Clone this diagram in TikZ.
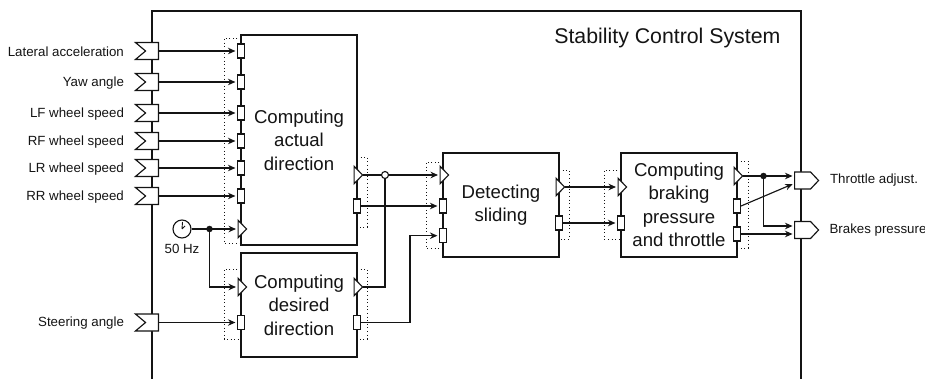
\documentclass[tikz,border=0pt]{standalone}
\usepackage{fontspec}
\setmainfont{Liberation Sans}
\usetikzlibrary{shapes.geometric,shapes.symbols,arrows.meta}

\begin{document}
\begin{tikzpicture}[x=1pt, y=-1pt, line width=1.15pt, black!92, font=\fontsize{13.3}{16}\selectfont,
sig/.style={-{Stealth[length=7.5pt,width=6.5pt]}, shorten >=1.5pt},
blockbox/.style={draw, fill=white, minimum width=116pt, align=center, inner sep=0pt, font=\fontsize{18.6}{23.5}\selectfont},
dataport/.style={draw, fill=white, minimum width=7pt, minimum height=14pt, inner sep=0pt},
trigport/.style={draw, fill=white, isosceles triangle, isosceles triangle apex angle=92, isosceles triangle stretches, minimum width=17.5pt, minimum height=8.5pt, inner sep=0pt, anchor=lower side},
inport/.style={draw, fill=white, signal, signal from=west, signal to=nowhere, signal pointer angle=80, minimum width=23pt, minimum height=17pt, inner sep=0pt, anchor=east},
outport/.style={draw, fill=white, signal, signal to=east, signal from=nowhere, signal pointer angle=93, minimum width=24pt, minimum height=17pt, inner sep=0pt, anchor=west},
portlabel/.style={inner sep=0pt},
dotbox/.style={dash pattern=on 1pt off 2.6pt, line width=0.95pt},
joint/.style={circle, fill, minimum size=6.5pt, inner sep=0pt}]
\useasboundingbox (0,0) rectangle (925,379);
\draw (152,379) -- (152,11) -- (801,11) -- (801,379);
\node [anchor=east, inner sep=0pt, font=\fontsize{21.3}{23}\selectfont] (title) at (781,38) {Stability Control System};

\node [blockbox, minimum height=210pt] (actual) at (299,140) {Computing\\actual\\direction};
\node [blockbox, minimum height=104pt] (desired) at (299,305) {Computing\\desired\\direction};
\node [blockbox, minimum height=104pt] (sliding) at (501,205) {Detecting\\sliding};
\node [blockbox, minimum height=104pt] (braking) at (679,205) {Computing\\braking\\pressure\\and throttle};

% dotted port groups
\draw [dotbox] (241,38) -| (224,243) -- (241,243);
\draw [dotbox] (241,269) -| (224,339) -- (241,339);
\draw [dotbox] (357,157) -| (367,227) -- (357,227);
\draw [dotbox] (357,269) -| (367,339) -- (357,339);
\draw [dotbox] (443,162) -| (426,248) -- (443,248);
\draw [dotbox] (559,170) -| (569,239) -- (559,239);
\draw [dotbox] (621,170) -| (604,239) -- (621,239);
\draw [dotbox] (737,161) -| (748,248) -- (737,248);

\foreach \name/\ypos/\lab in {lat/51/Lateral acceleration, yaw/82/Yaw angle, lf/113/LF wheel speed, rf/141/RF wheel speed, lr/168/LR wheel speed, rr/196/RR wheel speed, steer/322.5/Steering angle} {
  \node [inport] (in\name) at (159,\ypos) {};
  \node [dataport] (data\name) at (241,\ypos) {};
  \node [portlabel, anchor=east] (lab\name) at (124.5,\ypos+0.8) {\lab};
  \draw [sig] (in\name.east) -- (data\name.west);
}

% clock
\node [circle, draw, minimum size=18pt, inner sep=0pt] (clock) at (182,229) {};
\draw [line width=0.9pt] (clock.center) -- +(0.5,-7) (clock.center) -- +(3,-3);
\node [portlabel] (hz) at (182,249) {50 Hz};
\node [joint] (clockjoint) at (209.5,229) {};
\node [trigport] (trigactual) at (237.5,229) {};
\node [trigport] (trigdesired) at (237.5,287) {};
\draw [sig] (clock.east) -- (trigactual.west);
\draw [sig] (clockjoint.center) |- (trigdesired.west);

% outputs of the direction blocks
\node [trigport] (outactual) at (353.5,175) {};
\node [dataport] (dataactual) at (357,206) {};
\node [trigport] (outdesired) at (353.5,287) {};
\node [dataport] (datadesired) at (357,322.7) {};
\node [trigport] (trigsliding) at (439.5,175) {};
\node [dataport] (dataslidingA) at (443,206) {};
\node [dataport] (dataslidingB) at (443,235.7) {};
\coordinate (openpoint) at (385,175);
\coordinate (bend) at (410,322.7);
\draw [sig] (outactual.east) -- (trigsliding.west);
\draw (outdesired.east) -| (openpoint);
\draw [sig] (dataactual.east) -- (dataslidingA.west);
\draw [sig] (datadesired.east) -- (bend) |- (dataslidingB.west);
\node [circle, draw, fill=white, minimum size=7pt, inner sep=0pt] (openjoint) at (openpoint) {};

% sliding to braking
\node [trigport] (outsliding) at (555.5,187) {};
\node [dataport] (datasliding) at (559,223) {};
\node [trigport] (trigbraking) at (617.5,187) {};
\node [dataport] (databraking) at (621,223) {};
\draw [sig] (outsliding.east) -- (trigbraking.west);
\draw [sig] (datasliding.east) -- (databraking.west);

% outputs
\node [trigport] (outbraking) at (733.5,176) {};
\node [dataport] (datathrottle) at (737,206) {};
\node [dataport] (databrakes) at (737,234) {};
\node [outport] (throttle) at (794,180.5) {};
\node [outport] (brakes) at (794,230) {};
\node [portlabel, anchor=west] (labthrottle) at (829.5,180) {Throttle adjust.};
\node [portlabel, anchor=west] (labbrakes) at (829,230) {Brakes pressure};
\coordinate (throttleA) at (794,176);
\coordinate (throttleB) at (794,183.5);
\coordinate (brakesA) at (794,226);
\coordinate (brakesB) at (794,234);
\node [joint] (brakingjoint) at (763.5,176) {};
\draw [sig] (outbraking.east) -- (throttleA);
\draw [sig] (brakingjoint.center) |- (brakesA);
\draw [sig] (datathrottle.east) -- (throttleB);
\draw [sig] (databrakes.east) -- (brakesB);
\end{tikzpicture}
\end{document}
